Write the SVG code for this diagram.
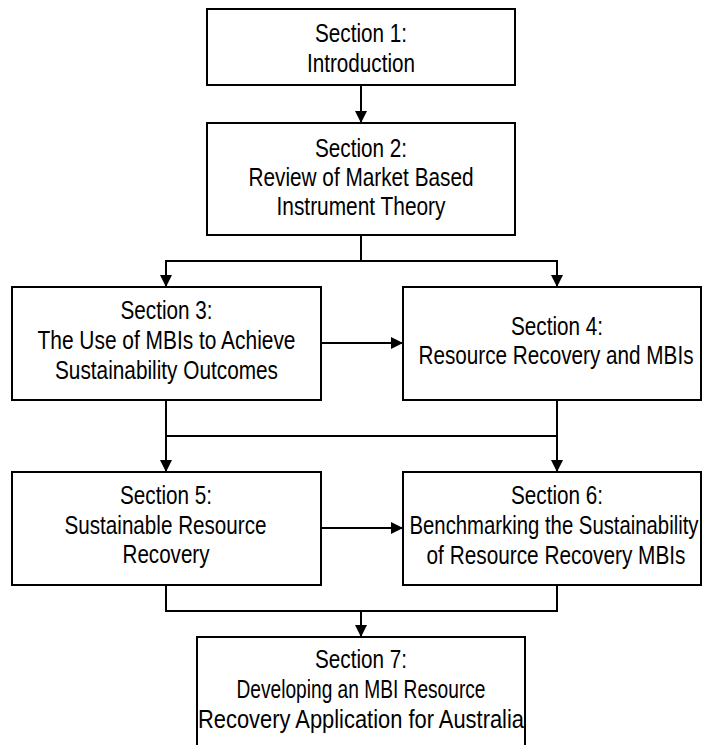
<svg xmlns="http://www.w3.org/2000/svg" width="703" height="745" viewBox="0 0 703 745">
  <defs>
    <style>
      .box { fill: #ffffff; stroke: #000000; stroke-width: 2; }
      .wire { fill: none; stroke: #000000; stroke-width: 2; }
      .lbl { font-family: "Liberation Sans", Arial, sans-serif; font-size: 25.5px; fill: #000000; text-anchor: middle; }
    </style>
    <marker id="head" viewBox="0 0 12 12" refX="12" refY="6" markerWidth="12" markerHeight="12" markerUnits="userSpaceOnUse" orient="auto">
      <path d="M0,0 L12,6 L0,12 Z" fill="#000000"/>
    </marker>
  </defs>
  <rect width="703" height="745" fill="#ffffff"/>

  <!-- connectors -->
  <g id="connectors">
    <line class="wire" x1="361" y1="85" x2="361" y2="123" marker-end="url(#head)"/>
    <polyline class="wire" points="361,235 361,261"/>
    <polyline class="wire" points="166,261 557,261"/>
    <line class="wire" x1="166" y1="260" x2="166" y2="287" marker-end="url(#head)"/>
    <line class="wire" x1="557" y1="260" x2="557" y2="287" marker-end="url(#head)"/>
    <line class="wire" x1="321" y1="343" x2="403" y2="343" marker-end="url(#head)"/>
    <line class="wire" x1="166" y1="400" x2="166" y2="472" marker-end="url(#head)"/>
    <line class="wire" x1="557" y1="400" x2="557" y2="472" marker-end="url(#head)"/>
    <line class="wire" x1="166" y1="436" x2="557" y2="436"/>
    <line class="wire" x1="321" y1="528" x2="403" y2="528" marker-end="url(#head)"/>
    <polyline class="wire" points="166,585 166,611 557,611 557,585"/>
    <line class="wire" x1="361" y1="611" x2="361" y2="637" marker-end="url(#head)"/>
  </g>

  <g id="section1">
    <rect class="box" x="207" y="9" width="308" height="76"/>
    <text class="lbl" x="361" y="42" textLength="92" lengthAdjust="spacingAndGlyphs">Section 1:</text>
    <text class="lbl" x="361" y="72" textLength="108" lengthAdjust="spacingAndGlyphs">Introduction</text>
  </g>

  <g id="section2">
    <rect class="box" x="207" y="123" width="308" height="112"/>
    <text class="lbl" x="361" y="157" textLength="92" lengthAdjust="spacingAndGlyphs">Section 2:</text>
    <text class="lbl" x="361" y="186" textLength="225" lengthAdjust="spacingAndGlyphs">Review of Market Based</text>
    <text class="lbl" x="361" y="215" textLength="169" lengthAdjust="spacingAndGlyphs">Instrument Theory</text>
  </g>

  <g id="section3">
    <rect class="box" x="12" y="287" width="309" height="113"/>
    <text class="lbl" x="166.5" y="319" textLength="92" lengthAdjust="spacingAndGlyphs">Section 3:</text>
    <text class="lbl" x="166.5" y="349" textLength="258" lengthAdjust="spacingAndGlyphs">The Use of MBIs to Achieve</text>
    <text class="lbl" x="166.5" y="379" textLength="223" lengthAdjust="spacingAndGlyphs">Sustainability Outcomes</text>
  </g>

  <g id="section4">
    <rect class="box" x="403" y="287" width="298" height="113"/>
    <text class="lbl" x="557" y="335" textLength="92" lengthAdjust="spacingAndGlyphs">Section 4:</text>
    <text class="lbl" x="556" y="364" textLength="275" lengthAdjust="spacingAndGlyphs">Resource Recovery and MBIs</text>
  </g>

  <g id="section5">
    <rect class="box" x="12" y="472" width="309" height="113"/>
    <text class="lbl" x="166" y="504" textLength="92" lengthAdjust="spacingAndGlyphs">Section 5:</text>
    <text class="lbl" x="165.5" y="534" textLength="202" lengthAdjust="spacingAndGlyphs">Sustainable Resource</text>
    <text class="lbl" x="166" y="563" textLength="87" lengthAdjust="spacingAndGlyphs">Recovery</text>
  </g>

  <g id="section6">
    <rect class="box" x="403" y="472" width="298" height="113"/>
    <text class="lbl" x="557" y="504" textLength="92" lengthAdjust="spacingAndGlyphs">Section 6:</text>
    <text class="lbl" x="554" y="534" textLength="289" lengthAdjust="spacingAndGlyphs">Benchmarking the Sustainability</text>
    <text class="lbl" x="556" y="564" textLength="259" lengthAdjust="spacingAndGlyphs">of Resource Recovery MBIs</text>
  </g>

  <g id="section7">
    <rect class="box" x="197" y="637" width="328" height="130"/>
    <text class="lbl" x="361" y="668" textLength="92" lengthAdjust="spacingAndGlyphs">Section 7:</text>
    <text class="lbl" x="361" y="698" textLength="249" lengthAdjust="spacingAndGlyphs">Developing an MBI Resource</text>
    <text class="lbl" x="361" y="728" textLength="326" lengthAdjust="spacingAndGlyphs">Recovery Application for Australia</text>
  </g>
</svg>
